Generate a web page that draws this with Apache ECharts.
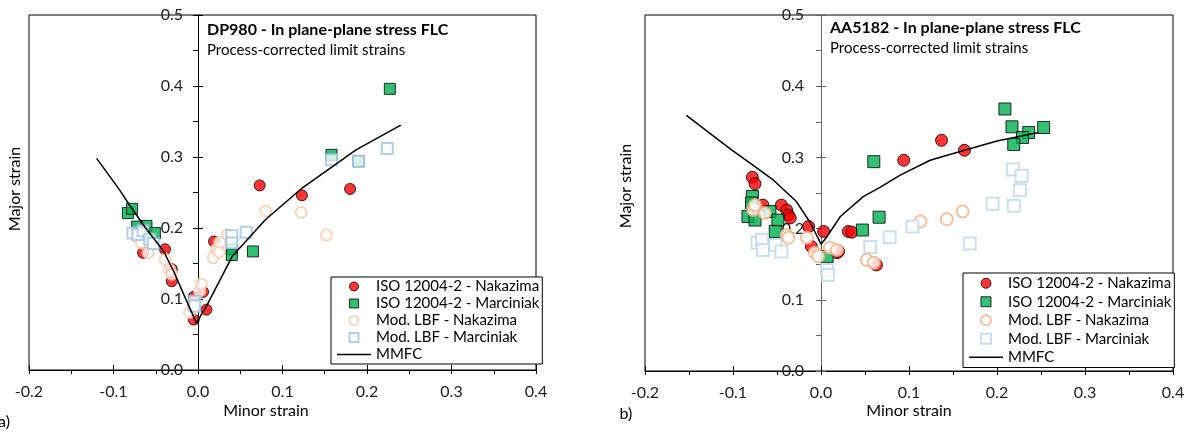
<!DOCTYPE html>
<html>
<head>
<meta charset="utf-8">
<title>In plane-plane stress FLC</title>
<script src="https://cdn.jsdelivr.net/npm/echarts@6/dist/echarts.min.js"></script>
<style>
  html, body { margin: 0; padding: 0; background: #fff; }
  #chart { width: 1188px; height: 435px; }
</style>
</head>
<body>
<div id="chart"></div>
<script>
// ---- shared axis ticks ----
const xTicks = [-0.2, -0.1, 0.0, 0.1, 0.2, 0.3, 0.4];
const yTicks = [0.0, 0.1, 0.2, 0.3, 0.4, 0.5];

// ---- legend / series names ----
const seriesNames = [
  'ISO 12004-2 - Nakazima',
  'ISO 12004-2 - Marciniak',
  'Mod. LBF - Nakazima',
  'Mod. LBF - Marciniak',
  'MMFC'
];

// ---- DP980 limit strains [minor, major] ----
const dpIsoNakazima = [
  [-0.065, 0.165], [-0.039, 0.170], [-0.031, 0.142], [-0.031, 0.125],
  [-0.005, 0.103], [-0.005, 0.071], [0.010, 0.085], [0.006, 0.110],
  [0.019, 0.181], [0.073, 0.260], [0.123, 0.246], [0.180, 0.255]
];
const dpIsoMarciniak = [
  [-0.083, 0.221], [-0.078, 0.227], [-0.072, 0.202], [-0.061, 0.203],
  [-0.051, 0.193], [0.040, 0.170], [0.040, 0.162], [0.065, 0.167],
  [0.158, 0.303], [0.190, 0.294], [0.227, 0.396]
];
const dpLbfNakazima = [
  [-0.073, 0.189], [-0.067, 0.179], [-0.059, 0.165], [-0.039, 0.156],
  [-0.034, 0.142], [-0.031, 0.135], [-0.010, 0.081], [-0.006, 0.090],
  [0.002, 0.111], [0.004, 0.121], [0.018, 0.158], [0.022, 0.170],
  [0.025, 0.166], [0.026, 0.180], [0.035, 0.191], [0.080, 0.224],
  [0.122, 0.222], [0.152, 0.190]
];
const dpLbfMarciniak = [
  [-0.077, 0.193], [-0.071, 0.191], [-0.065, 0.196], [-0.057, 0.184],
  [-0.053, 0.178], [-0.004, 0.097], [-0.004, 0.090], [0.040, 0.189],
  [0.040, 0.179], [0.057, 0.194], [0.158, 0.296], [0.190, 0.294],
  [0.224, 0.312]
];
const dpMmfc = [
  [-0.120, 0.298], [-0.093, 0.254], [-0.081, 0.232], [-0.062, 0.200],
  [-0.041, 0.168], [-0.028, 0.137], [-0.016, 0.104], [-0.004, 0.072],
  [-0.002, 0.066], [0.010, 0.090], [0.041, 0.161], [0.080, 0.212],
  [0.124, 0.257], [0.187, 0.310], [0.240, 0.345]
];

// ---- AA5182 limit strains [minor, major] ----
const aaIsoNakazima = [
  [-0.078, 0.272], [-0.075, 0.263], [-0.066, 0.233], [-0.045, 0.233],
  [-0.039, 0.226], [-0.037, 0.219], [-0.035, 0.215], [-0.014, 0.203],
  [0.003, 0.196], [-0.011, 0.175], [0.018, 0.166], [0.020, 0.168],
  [0.031, 0.196], [0.035, 0.195], [0.063, 0.149], [0.094, 0.296],
  [0.137, 0.324], [0.163, 0.310]
];
const aaIsoMarciniak = [
  [-0.078, 0.245], [-0.079, 0.236], [-0.083, 0.217], [-0.075, 0.212],
  [-0.058, 0.224], [-0.049, 0.212], [-0.052, 0.196], [0.007, 0.161],
  [0.047, 0.198], [0.066, 0.216], [0.060, 0.294], [0.209, 0.368],
  [0.217, 0.343], [0.253, 0.342], [0.236, 0.335], [0.229, 0.328],
  [0.219, 0.318]
];
const aaLbfNakazima = [
  [-0.077, 0.226], [-0.075, 0.233], [-0.064, 0.222], [-0.039, 0.191],
  [-0.037, 0.187], [-0.016, 0.187], [-0.007, 0.166], [-0.003, 0.161],
  [0.010, 0.173], [0.018, 0.170], [0.052, 0.156], [0.060, 0.152],
  [0.113, 0.210], [0.143, 0.213], [0.161, 0.224]
];
const aaLbfMarciniak = [
  [-0.072, 0.180], [-0.067, 0.184], [-0.066, 0.170], [-0.052, 0.177],
  [-0.045, 0.168], [0.007, 0.142], [0.008, 0.135], [0.056, 0.174],
  [0.078, 0.188], [0.104, 0.203], [0.169, 0.179], [0.195, 0.235],
  [0.219, 0.232], [0.218, 0.283], [0.228, 0.274], [0.226, 0.254]
];
const aaMmfc = [
  [-0.153, 0.359], [-0.102, 0.311], [-0.075, 0.287], [-0.054, 0.268],
  [-0.028, 0.238], [-0.013, 0.210], [-0.003, 0.186], [0.000, 0.178],
  [0.007, 0.189], [0.022, 0.217], [0.048, 0.245], [0.067, 0.258],
  [0.090, 0.275], [0.124, 0.296], [0.163, 0.310], [0.200, 0.323],
  [0.247, 0.335]
];

// ---- styling ----
const FONT = 'Lato';
const RED = '#FF0000', GREEN = '#00B050';
const PEACH_A = '#F8CBAD', BLUE_A = '#9DC3E6';
const PEACH_B = '#F4B183', BLUE_B = '#BDD7EE';
const SQUARE = 'path://M0,0H10V10H0Z';
const LINE_ICON = 'path://M0,0H34V1.5H0Z';

const GRIDS = [
  { left: 29, top: 15, width: 507, height: 355 },
  { left: 645, top: 15, width: 528, height: 356 }
];

const fmt = v => v.toFixed(1);
const X_MIN = xTicks[0], X_MAX = xTicks[xTicks.length - 1];

// main axis (labels, outward major + minor ticks) and a twin that adds the inward half of the major ticks
function xAxesFor(gridIndex, color) {
  const base = { type: 'value', gridIndex, min: X_MIN, max: X_MAX, interval: 0.1, position: 'bottom', splitLine: { show: false } };
  return [
    Object.assign({}, base, {
      axisLine: { show: true, onZero: false, lineStyle: { color, width: 1 } },
      axisTick: { show: true, inside: false, length: 4, lineStyle: { color } },
      minorTick: { show: true, splitNumber: 2, length: 4, lineStyle: { color } },
      axisLabel: { show: true, formatter: fmt, margin: 14, color: '#222', fontFamily: FONT, fontSize: 16 }
    }),
    Object.assign({}, base, {
      axisLine: { show: false, onZero: false },
      axisTick: { show: true, inside: true, length: 5, lineStyle: { color } },
      axisLabel: { show: false }
    })
  ];
}
// the vertical axis crosses the horizontal one at minor strain = 0
function yAxesFor(gridIndex, color, margin) {
  const g = GRIDS[gridIndex];
  const offset = -g.width * (0 - X_MIN) / (X_MAX - X_MIN);
  const base = { type: 'value', gridIndex, min: yTicks[0], max: yTicks[yTicks.length - 1], interval: 0.1, position: 'left', offset, splitLine: { show: false } };
  return [
    Object.assign({}, base, {
      axisLine: { show: true, onZero: false, lineStyle: { color, width: 1 } },
      axisTick: { show: true, inside: false, length: 5, lineStyle: { color } },
      minorTick: { show: true, splitNumber: 2, length: 5, lineStyle: { color } },
      axisLabel: { show: true, formatter: fmt, margin, color: '#222', fontFamily: FONT, fontSize: 16 }
    }),
    Object.assign({}, base, {
      axisLine: { show: false, onZero: false },
      axisTick: { show: true, inside: true, length: 5, lineStyle: { color } },
      axisLabel: { show: false }
    })
  ];
}

function panelSeries(axisIndex, size, sets, peach, blue) {
  const mk = (name, data, symbol, itemStyle) => ({
    name, type: 'scatter', data, symbol, symbolSize: size,
    xAxisIndex: axisIndex, yAxisIndex: axisIndex, itemStyle, emphasis: { disabled: true }
  });
  return [
    mk(seriesNames[0], sets[0], 'circle', { color: RED, borderColor: '#000', borderWidth: 1 }),
    mk(seriesNames[1], sets[1], SQUARE, { color: GREEN, borderColor: '#000', borderWidth: 1 }),
    mk(seriesNames[2], sets[2], 'circle', { color: '#fff', borderColor: peach, borderWidth: 2 }),
    mk(seriesNames[3], sets[3], SQUARE, { color: '#fff', borderColor: blue, borderWidth: 2 }),
    {
      name: seriesNames[4], type: 'line', data: sets[4], symbol: 'none', showSymbol: false, smooth: false,
      xAxisIndex: axisIndex, yAxisIndex: axisIndex, color: '#000',
      lineStyle: { color: '#000', width: 1.5 }, emphasis: { disabled: true }, z: 5
    }
  ];
}

function legendFor(left, top, iconH, lineH, peach, blue) {
  return {
    orient: 'vertical', left, top, itemWidth: 34, itemHeight: iconH, itemGap: 0,
    padding: [1, 3, 1, 6], backgroundColor: '#fff', borderColor: '#000', borderWidth: 1, borderRadius: 0,
    selectedMode: false, symbolKeepAspect: true,
    textStyle: { fontFamily: FONT, fontSize: 15, color: '#000', lineHeight: lineH },
    data: [
      { name: seriesNames[0], icon: 'circle', itemStyle: { color: RED, borderColor: '#000', borderWidth: 1 } },
      { name: seriesNames[1], icon: SQUARE, itemStyle: { color: GREEN, borderColor: '#000', borderWidth: 1 } },
      { name: seriesNames[2], icon: 'circle', itemStyle: { color: '#fff', borderColor: peach, borderWidth: 2 } },
      { name: seriesNames[3], icon: SQUARE, itemStyle: { color: '#fff', borderColor: blue, borderWidth: 2 } },
      { name: seriesNames[4], icon: LINE_ICON, itemStyle: { color: '#000', borderWidth: 0 } }
    ]
  };
}

function label(text, x, y, extra) {
  return Object.assign({
    type: 'text', x, y, silent: true,
    style: { text, align: 'center', verticalAlign: 'middle', font: '16px ' + FONT, fill: '#000' }
  }, extra || {});
}

const chart = echarts.init(document.getElementById('chart'), null, { renderer: 'canvas' });
chart.setOption({
  animation: false,
  backgroundColor: '#fff',
  grid: GRIDS.map(g => Object.assign({ show: true, borderColor: '#000', borderWidth: 1, backgroundColor: 'transparent' }, g)),
  xAxis: [...xAxesFor(0, '#000'), ...xAxesFor(1, '#000')],
  yAxis: [...yAxesFor(0, '#000', 15), ...yAxesFor(1, '#666', 17)],
  title: [
    {
      text: 'DP980 - In plane-plane stress FLC', subtext: 'Process-corrected limit strains',
      left: 207, top: 20, padding: 0, itemGap: 0,
      textStyle: { fontFamily: FONT, fontSize: 16, fontWeight: 'bold', color: '#000', lineHeight: 20 },
      subtextStyle: { fontFamily: FONT, fontSize: 15, color: '#000', lineHeight: 20 }
    },
    {
      text: 'AA5182 - In plane-plane stress FLC', subtext: 'Process-corrected limit strains',
      left: 830, top: 18, padding: 0, itemGap: 0,
      textStyle: { fontFamily: FONT, fontSize: 16, fontWeight: 'bold', color: '#000', lineHeight: 20 },
      subtextStyle: { fontFamily: FONT, fontSize: 15, color: '#000', lineHeight: 20 }
    }
  ],
  legend: [
    legendFor(331, 277, 9, 17, PEACH_A, BLUE_A),
    legendFor(963, 273, 10, 18.5, PEACH_B, BLUE_B)
  ],
  graphic: [
    label('Minor strain', 266, 411),
    label('Minor strain', 909, 411),
    label('Major strain', 14.5, 189, { rotation: Math.PI / 2 }),
    label('Major strain', 626, 186, { rotation: Math.PI / 2 }),
    label('a)', 4, 422),
    label('b)', 626, 414)
  ],
  series: [
    ...panelSeries(0, 11, [dpIsoNakazima, dpIsoMarciniak, dpLbfNakazima, dpLbfMarciniak, dpMmfc], PEACH_A, BLUE_A),
    ...panelSeries(2, 12, [aaIsoNakazima, aaIsoMarciniak, aaLbfNakazima, aaLbfMarciniak, aaMmfc], PEACH_B, BLUE_B)
  ]
});
</script>
</body>
</html>
